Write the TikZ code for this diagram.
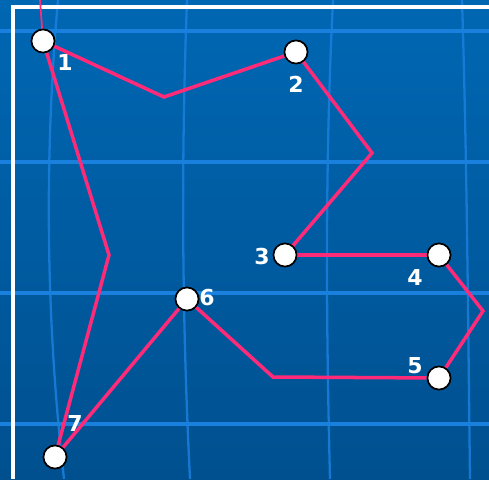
\documentclass[tikz,border=0pt]{standalone}
\usepackage{fontspec}
\setsansfont{DejaVu Sans}
\usetikzlibrary{positioning, calc}
\definecolor{bgtop}{RGB}{0,103,179}
\definecolor{bgbottom}{RGB}{0,80,143}
\definecolor{gridblue}{RGB}{26,128,222}
\definecolor{routepink}{RGB}{255,42,120}
\tikzset{
    stop/.style={
        circle, draw=black, fill=white, line width=0.9pt,
        minimum size=4.6mm, inner sep=0pt
    },
    num/.style={
        text=white, font=\sffamily\bfseries\fontsize{12.5}{12.5}\selectfont,
        inner sep=0pt
    },
    route/.style={
        draw=routepink, line width=2pt, line join=miter
    },
    gridline/.style={
        draw=gridblue, line width=1.9pt
    },
    meridian/.style={
        draw=gridblue, line width=1.3pt, opacity=0.85
    }
}
\begin{document}
\begin{tikzpicture}[x=0.02cm, y=-0.02cm]
    \useasboundingbox (0,0) rectangle (489,479);
    % fondo y cuadricula
    \shade[top color=bgtop, bottom color=bgbottom] (0,0) rectangle (489,479);
    \foreach \y in {31,162,293,424}
        \path[gridline] (0,\y) -- (489,\y);
    \path[meridian] (58,0) .. controls (44,160) and (46,320) .. (64,479);
    \path[meridian] (187,0) .. controls (181,160) and (182,320) .. (190,479);
    \path[meridian] (333,0) .. controls (325,160) and (326,320) .. (330,479);
    \path[meridian] (462,0) .. controls (467,160) and (468,320) .. (470,479);
    \draw[white, line width=2.3pt] (489,7) -- (13,7) -- (13,479);

    % paradas
    \node[stop] (p1) at (43,41) {};
    \node[stop] (p2) at (296,52) {};
    \node[stop] (p3) at (285,255) {};
    \node[stop] (p4) at (439,255) {};
    \node[stop] (p5) at (439,378) {};
    \node[stop] (p6) at (187,299) {};
    \node[stop] (p7) at (55,457) {};

    % quiebres de la ruta
    \coordinate (start) at (40,0);
    \coordinate (b12) at (164,97);
    \coordinate (b23) at (372,153);
    \coordinate (b45) at (483,311);
    \coordinate (b56) at (273,377);
    \coordinate (b71) at (109,255);

    \draw[routepink, line width=1pt] (start) -- (p1);
    \path[route] (p1) -- (b12) -- (p2);
    \path[route] (p2) -- (b23) -- (p3);
    \path[route] (p3) -- (p4);
    \path[route] (p4) -- (b45) -- (p5);
    \path[route] (p5) -- (b56) -- (p6);
    \path[route] (p6) -- (p7);
    \path[route] (p7) -- (b71) -- (p1);

    % redibujar paradas encima de la ruta
    \foreach \p in {p1,p2,p3,p4,p5,p6,p7}
        \node[stop] at (\p) {};

    \node[num] (n1) at (65,62) {1};
    \node[num] (n2) at (296,84) {2};
    \node[num] (n3) at (262,257) {3};
    \node[num] (n4) at (415,277) {4};
    \node[num] (n5) at (415,366) {5};
    \node[num] (n6) at (207,298) {6};
    \node[num] (n7) at (75,423) {7};
\end{tikzpicture}
\end{document}
